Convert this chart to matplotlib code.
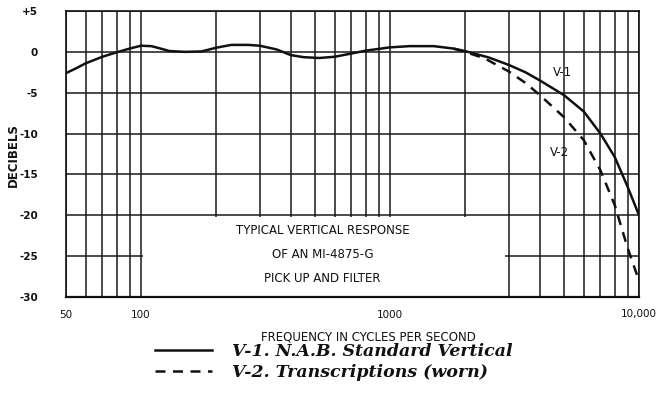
import matplotlib
matplotlib.use('Agg')
import matplotlib.pyplot as plt
from matplotlib.patches import Rectangle
from matplotlib.ticker import FixedLocator, NullFormatter

# response curves (Hz, dB)
v1_freq = [50, 55, 60, 70, 80, 90, 100, 110, 120, 130, 150, 175, 200, 230, 270, 300,
           350, 400, 450, 520, 600, 700, 800, 1000, 1200, 1500, 1800, 2000, 2500,
           3000, 3500, 4000, 5000, 6000, 7000, 8000, 9000, 10000]
v1_db = [-2.6, -2.0, -1.4, -0.6, -0.05, 0.4, 0.75, 0.7, 0.4, 0.1, 0.0, 0.05, 0.5, 0.85,
         0.85, 0.75, 0.3, -0.4, -0.65, -0.75, -0.6, -0.2, 0.15, 0.55, 0.7, 0.7, 0.4,
         0.1, -0.7, -1.6, -2.5, -3.5, -5.3, -7.3, -10.0, -12.9, -16.5, -20.0]

v2_freq = [1800, 2000, 2400, 3000, 3500, 4000, 5000, 6000, 7000, 8000, 9000, 10000]
v2_db = [0.4, 0.0, -0.8, -2.4, -3.8, -5.3, -8.0, -10.8, -14.5, -18.8, -24.0, -28.0]

x_major = [50, 100, 1000, 10000]
x_major_labels = ['50', '100', '1000', '10,000']
x_minor = [60, 70, 80, 90, 200, 300, 400, 500, 600, 700, 800, 900,
           2000, 3000, 4000, 5000, 6000, 7000, 8000, 9000]
y_ticks = [5, 0, -5, -10, -15, -20, -25, -30]
y_labels = ['+5', '0', '-5', '-10', '-15', '-20', '-25', '-30']

box_lines = ['TYPICAL VERTICAL RESPONSE', 'OF AN MI-4875-G', 'PICK UP AND FILTER']
legend_labels = ['V-1. N.A.B. Standard Vertical', 'V-2. Transcriptions (worn)']

sans = 'DejaVu Sans'
ink = '#111111'

fig = plt.figure(figsize=(6.57, 3.98), dpi=100)
ax = fig.add_axes([66/657, 1-297/398, (639-66)/657, (297-11)/398])

ax.set_xscale('log')
ax.set_xlim(50, 10000)
ax.set_ylim(-30, 5)

ax.xaxis.set_major_locator(FixedLocator(x_major))
ax.set_xticklabels(x_major_labels)
ax.xaxis.set_minor_locator(FixedLocator(x_minor))
ax.xaxis.set_minor_formatter(NullFormatter())
ax.set_yticks(y_ticks)
ax.set_yticklabels(y_labels)

ax.tick_params(which='both', length=0)
ax.tick_params(axis='x', pad=9)
ax.tick_params(axis='y', pad=20)
for lab in ax.get_yticklabels():
    lab.set_family(sans)
    lab.set_fontsize(7.5)
    lab.set_fontweight('bold')
    lab.set_color(ink)
for lab in ax.get_xticklabels():
    lab.set_family(sans)
    lab.set_fontsize(7.5)
    lab.set_color(ink)

ax.set_axisbelow(True)
ax.grid(which='both', color='#1a1a1a', linewidth=1.1)
for s in ax.spines.values():
    s.set_color(ink)
    s.set_linewidth(1.2)
ax.spines['bottom'].set_linewidth(1.6)

# white title box that blanks out part of the grid
ax.add_patch(Rectangle((102, -30), 2900 - 102, 9.8, facecolor='white',
                       edgecolor='none', zorder=1))
for i, t in enumerate(box_lines):
    ax.text(0.448, 0.231 - i * 0.084, t, transform=ax.transAxes, ha='center',
            va='center', fontsize=8.5, family=sans, color=ink, zorder=3)

l1, = ax.plot(v1_freq, v1_db, color=ink, linewidth=1.8, zorder=4)
l2, = ax.plot(v2_freq, v2_db, color=ink, linewidth=1.8, zorder=4,
              linestyle=(0, (4, 3)))

ax.text(4950, -2.5, 'V-1', fontsize=8.5, family=sans, color=ink, ha='center', va='center')
ax.text(4800, -12.3, 'V-2', fontsize=8.5, family=sans, color=ink, ha='center', va='center')

ax.set_xlabel('FREQUENCY IN CYCLES PER SECOND', fontsize=8.5, family=sans,
              color=ink)
ax.xaxis.label.set_va('center')
ax.xaxis.set_label_coords((368-66)/573, -40/286)
fig.text(13/657, 1-155/398, 'DECIBELS', rotation=90, ha='center', va='center',
         fontsize=8.5, family=sans, fontweight='bold', color=ink)

leg = fig.legend([l1, l2], legend_labels, loc='upper left',
                 bbox_to_anchor=(155/657, 1-343/398), frameon=False,
                 handlelength=3.3, handletextpad=1.15, labelspacing=0.25,
                 borderpad=0, borderaxespad=0,
                 prop={'family': 'DejaVu Serif', 'style': 'italic', 'weight': 'bold', 'size': 12.5})
for t in leg.get_texts():
    t.set_color(ink)

fig.savefig('out.png', dpi=100)
